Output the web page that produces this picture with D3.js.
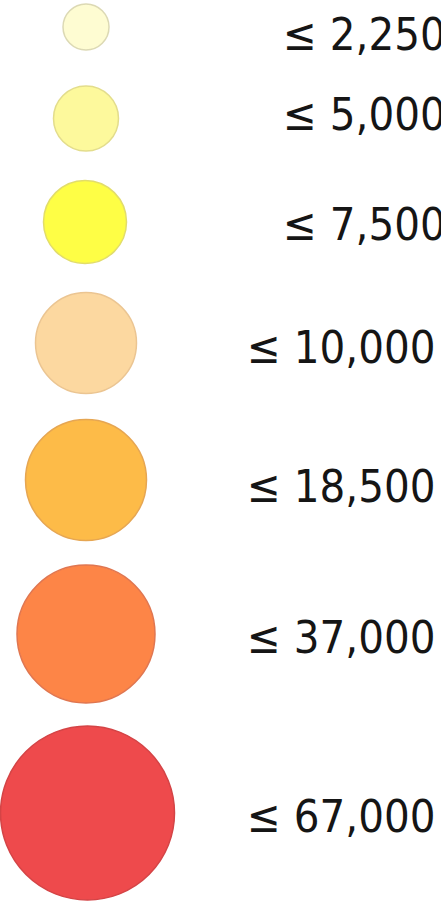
<!DOCTYPE html>
<html>
<head>
<meta charset="utf-8">
<script src="https://cdn.jsdelivr.net/npm/d3@7"></script>
<style>
  html, body { margin: 0; padding: 0; background: #ffffff; }
  svg { display: block; }
  .lbl { font-family: "DejaVu Sans Condensed", "DejaVu Sans", sans-serif; font-stretch: condensed; font-size: 45px; fill: #151515; }
</style>
</head>
<body>
<script>
// Legend classes (upper bounds) and their labels
const classes = ["c1", "c2", "c3", "c4", "c5", "c6", "c7"];
const upperBounds = [2250, 5000, 7500, 10000, 18500, 37000, 67000];
const fillColors = ["#fefcd2", "#fdf99c", "#fefe45", "#fcd8a0", "#fdbb48", "#fd8547", "#ee4a4c"];
const strokeColors = ["#dcd9b4", "#e3dd8c", "#e2dd6a", "#ebc592", "#e6a652", "#e07650", "#d44446"];

const W = 441, H = 903;
const svg = d3.select("body").append("svg").attr("width", W).attr("height", H);

// symbol size per class
const rScale = d3.scaleOrdinal().domain(classes).range([23, 32.5, 41.5, 50.5, 60.5, 69, 87]);
// vertical placement per class (symbol centre and label baseline)
const yScale = d3.scaleOrdinal().domain(classes).range([27, 118.5, 222, 343, 480, 634, 813]);
const yLabel = d3.scaleOrdinal().domain(classes).range([50, 130, 240, 363, 502, 653, 832]);
const xScale = d3.scaleOrdinal().domain(classes).range([86, 86, 85, 86, 86, 86, 87.5]);
const fill = d3.scaleOrdinal().domain(classes).range(fillColors);
const stroke = d3.scaleOrdinal().domain(classes).range(strokeColors);
const fmt = d3.format(",");

const rows = classes.map((c, i) => ({ c, v: upperBounds[i] }));

svg.selectAll("circle").data(rows).join("circle")
  .attr("cx", d => xScale(d.c))
  .attr("cy", d => yScale(d.c))
  .attr("r", d => rScale(d.c))
  .attr("fill", d => fill(d.c))
  .attr("stroke", d => stroke(d.c))
  .attr("stroke-width", 1.5);

svg.selectAll("text.lbl").data(rows).join("text")
  .attr("class", "lbl")
  .attr("x", d => d.v < 10000 ? 283 : 247)
  .attr("y", d => yLabel(d.c))
  .text(d => "\u2264 " + fmt(d.v));
</script>
</body>
</html>
